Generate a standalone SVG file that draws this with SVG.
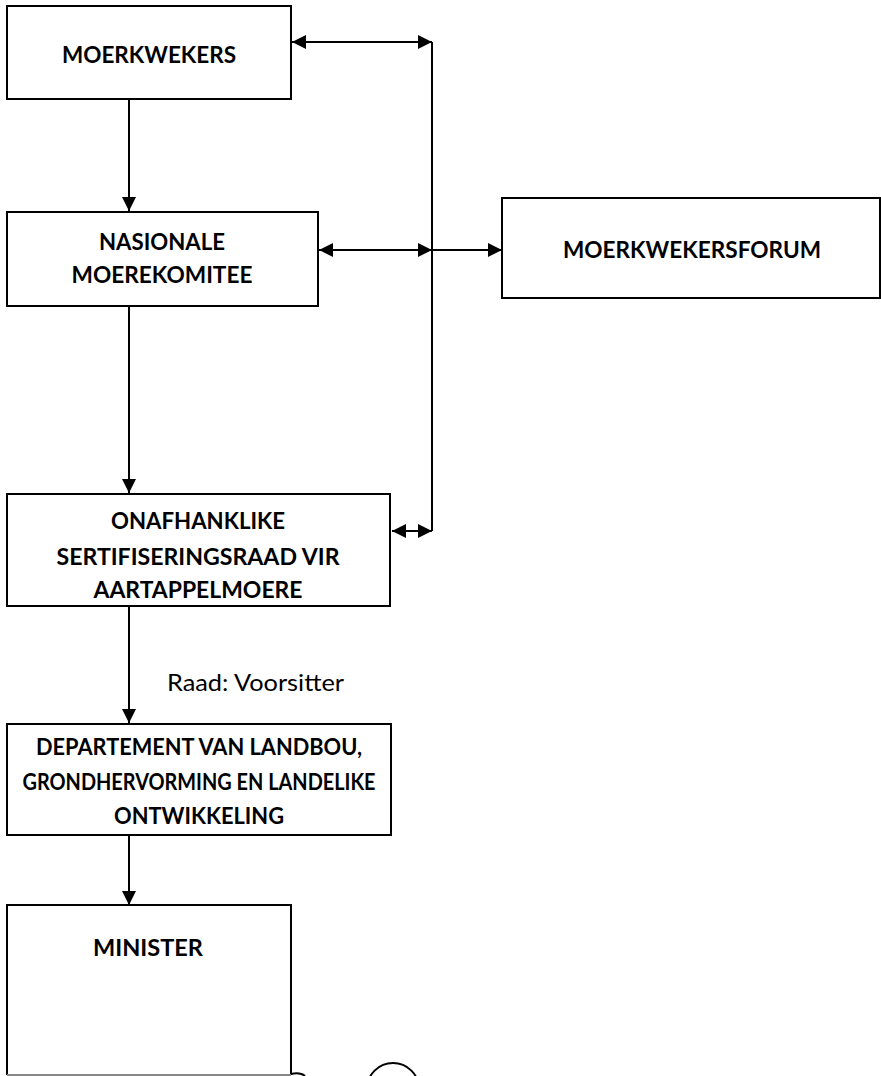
<svg xmlns="http://www.w3.org/2000/svg" width="881" height="1076" viewBox="0 0 881 1076">
<style>
.box{fill:#fff;stroke:#000;stroke-width:2}
.t{font-family:Lato,"Open Sans","Liberation Sans",sans-serif;font-weight:bold;font-size:23px;fill:#000;text-anchor:middle}
.lbl{font-family:Lato,"Open Sans","Liberation Sans",sans-serif;font-size:23px;fill:#000}
.c{fill:none;stroke:#000;stroke-width:2}
</style>
<defs>
<marker id="ah" markerUnits="userSpaceOnUse" markerWidth="14" markerHeight="14" viewBox="0 0 14 14" refX="14" refY="7" orient="auto-start-reverse">
<path d="M0,0 L14,7 L0,14 Z" fill="#000"/>
</marker>
</defs>
<rect width="881" height="1076" fill="#fff"/>
<g id="connectors">
<line class="c" x1="129" y1="99" x2="129" y2="211" marker-end="url(#ah)"/>
<line class="c" x1="129" y1="306" x2="129" y2="493" marker-end="url(#ah)"/>
<line class="c" x1="129" y1="606" x2="129" y2="723" marker-end="url(#ah)"/>
<line class="c" x1="129" y1="835" x2="129" y2="905" marker-end="url(#ah)"/>
<line class="c" x1="432" y1="42" x2="432" y2="531"/>
<line class="c" x1="292" y1="42" x2="432" y2="42" marker-start="url(#ah)" marker-end="url(#ah)"/>
<line class="c" x1="319" y1="250" x2="432" y2="250" marker-start="url(#ah)" marker-end="url(#ah)"/>
<line class="c" x1="432" y1="250" x2="502" y2="250" marker-end="url(#ah)"/>
<line class="c" x1="392" y1="531" x2="432" y2="531" marker-start="url(#ah)" marker-end="url(#ah)"/>
<text class="lbl" x="167" y="691" textLength="177" lengthAdjust="spacingAndGlyphs">Raad: Voorsitter</text>
</g>
<g id="moerkwekers">
<rect class="box" x="7" y="6" width="284" height="93"/>
<text class="t" x="149" y="63" textLength="174" lengthAdjust="spacingAndGlyphs">MOERKWEKERS</text>
</g>
<g id="nasionale">
<rect class="box" x="7" y="212" width="311" height="94"/>
<text class="t" x="162" y="250" textLength="126" lengthAdjust="spacingAndGlyphs">NASIONALE</text>
<text class="t" x="162" y="283" textLength="181" lengthAdjust="spacingAndGlyphs">MOEREKOMITEE</text>
</g>
<g id="forum">
<rect class="box" x="502" y="198" width="378" height="100"/>
<text class="t" x="692" y="258" textLength="258" lengthAdjust="spacingAndGlyphs">MOERKWEKERSFORUM</text>
</g>
<g id="raad">
<rect class="box" x="7" y="494" width="383" height="112"/>
<text class="t" x="198" y="529" textLength="174" lengthAdjust="spacingAndGlyphs">ONAFHANKLIKE</text>
<text class="t" x="198" y="565" textLength="283" lengthAdjust="spacingAndGlyphs">SERTIFISERINGSRAAD VIR</text>
<text class="t" x="198" y="598" textLength="209" lengthAdjust="spacingAndGlyphs">AARTAPPELMOERE</text>
</g>
<g id="departement">
<rect class="box" x="7" y="724" width="384" height="111"/>
<text class="t" x="199" y="755" textLength="326" lengthAdjust="spacingAndGlyphs">DEPARTEMENT VAN LANDBOU,</text>
<text class="t" x="199" y="790" textLength="353" lengthAdjust="spacingAndGlyphs">GRONDHERVORMING EN LANDELIKE</text>
<text class="t" x="199" y="824" textLength="170" lengthAdjust="spacingAndGlyphs">ONTWIKKELING</text>
</g>
<g id="minister">
<path class="box" d="M7,1075 L7,905 L291,905 L291,1075"/>
<line x1="7" y1="1075" x2="291" y2="1075" stroke="#888" stroke-width="2"/>
<text class="t" x="148" y="956" textLength="110" lengthAdjust="spacingAndGlyphs">MINISTER</text>
</g>
<g id="bottom-shapes">
<path class="c" d="M291,1074 Q300,1072 305,1076"/>
<circle class="c" cx="393" cy="1089" r="26"/>
</g>
</svg>
